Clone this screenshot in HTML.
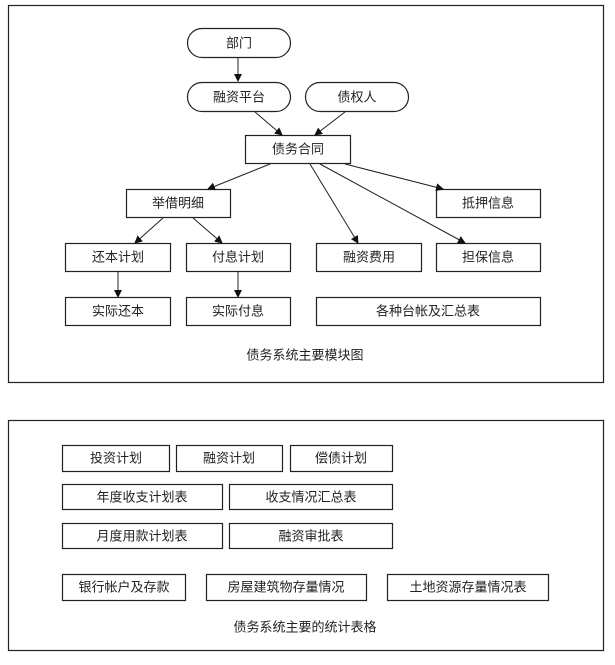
<!DOCTYPE html>
<html><head><meta charset="utf-8"><style>
body{margin:0;width:615px;height:660px;background:#fff;font-family:"Liberation Sans","Noto Sans CJK SC",sans-serif;}
svg text{font-family:"Liberation Sans","Noto Sans CJK SC",sans-serif;font-size:13px;fill:#222;text-anchor:middle;dominant-baseline:central;}
</style></head><body>
<svg width="615" height="660" viewBox="0 0 615 660" xmlns="http://www.w3.org/2000/svg">
<defs><marker id="a" markerWidth="8" markerHeight="8" refX="7" refY="4" orient="auto" markerUnits="userSpaceOnUse"><path d="M0,0 L8,4 L0,8 z" fill="#111"/></marker></defs>
<g fill="none" stroke="#222" stroke-width="1.2">
<rect x="8.5" y="5.5" width="595" height="377"/>
<rect x="8.5" y="420.5" width="595" height="230"/>
<rect x="187.5" y="28.5" width="103" height="29" rx="14.5"/>
<rect x="187.5" y="82.5" width="103" height="29" rx="14.5"/>
<rect x="305.5" y="82.5" width="103" height="29" rx="14.5"/>
<rect x="245.5" y="135.5" width="105" height="28"/>
<rect x="126.5" y="189.5" width="104" height="28"/>
<rect x="436.5" y="189.5" width="104" height="28"/>
<rect x="65.5" y="243.5" width="105" height="28"/>
<rect x="186.5" y="243.5" width="104" height="28"/>
<rect x="316.5" y="243.5" width="105" height="28"/>
<rect x="436.5" y="243.5" width="104" height="28"/>
<rect x="65.5" y="297.5" width="105" height="28"/>
<rect x="186.5" y="297.5" width="104" height="28"/>
<rect x="316.5" y="297.5" width="224" height="28"/>
<rect x="62.5" y="445.5" width="107" height="26"/>
<rect x="176.5" y="445.5" width="106" height="26"/>
<rect x="290.5" y="445.5" width="102" height="26"/>
<rect x="62.5" y="484.5" width="160" height="25"/>
<rect x="229.5" y="484.5" width="163" height="25"/>
<rect x="62.5" y="523.5" width="160" height="25"/>
<rect x="229.5" y="523.5" width="163" height="25"/>
<rect x="62.5" y="574.5" width="123" height="26"/>
<rect x="206.5" y="574.5" width="160" height="26"/>
<rect x="387.5" y="574.5" width="161" height="26"/>
<g marker-end="url(#a)" stroke-width="1">
<line x1="238" y1="58" x2="238" y2="81"/>
<line x1="255" y1="112" x2="282" y2="135"/>
<line x1="345" y1="112" x2="315" y2="135"/>
<line x1="270" y1="164" x2="208" y2="189"/>
<line x1="310" y1="164" x2="358" y2="243"/>
<line x1="320" y1="164" x2="465" y2="243"/>
<line x1="345" y1="164" x2="443" y2="189"/>
<line x1="163" y1="218" x2="135" y2="243"/>
<line x1="193" y1="218" x2="222" y2="243"/>
<line x1="118" y1="272" x2="118" y2="297"/>
<line x1="238" y1="272" x2="238" y2="297"/>
</g></g>
<text x="239" y="43">部门</text>
<text x="239" y="97">融资平台</text>
<text x="357" y="97">债权人</text>
<text x="298" y="149">债务合同</text>
<text x="178" y="203">举借明细</text>
<text x="488" y="203">抵押信息</text>
<text x="118" y="257">还本计划</text>
<text x="238" y="257">付息计划</text>
<text x="369" y="257">融资费用</text>
<text x="488" y="257">担保信息</text>
<text x="118" y="311">实际还本</text>
<text x="238" y="311">实际付息</text>
<text x="428" y="311">各种台帐及汇总表</text>
<text x="305" y="355">债务系统主要模块图</text>
<text x="116" y="458">投资计划</text>
<text x="229" y="458">融资计划</text>
<text x="341" y="458">偿债计划</text>
<text x="142" y="497">年度收支计划表</text>
<text x="311" y="497">收支情况汇总表</text>
<text x="142" y="536">月度用款计划表</text>
<text x="311" y="536">融资审批表</text>
<text x="124" y="587">银行帐户及存款</text>
<text x="286" y="587">房屋建筑物存量情况</text>
<text x="468" y="587">土地资源存量情况表</text>
<text x="305" y="627">债务系统主要的统计表格</text>
</svg>
</body></html>
